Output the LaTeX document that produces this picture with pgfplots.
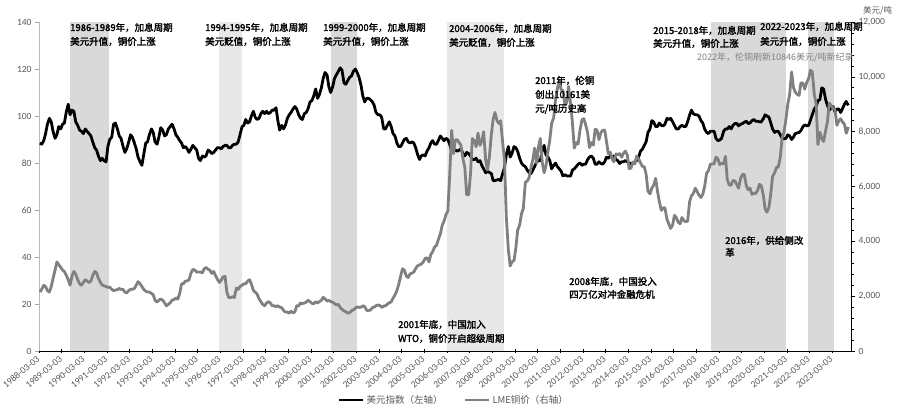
\documentclass[border=0pt]{standalone}
\usepackage{pgfplots}
\pgfplotsset{compat=1.18}
\usepackage{pgfplotstable}
\usepackage{fontspec}
\setmainfont{Carlito}
\newfontfamily\cjk{Noto Sans CJK SC}
\newfontfamily\cjkb[FakeBold=2]{Noto Sans CJK SC}

\definecolor{band}{HTML}{D9D9D9}
\definecolor{bandl}{HTML}{E8E8E8}
\definecolor{cu}{HTML}{808080}
\definecolor{tk}{HTML}{595959}

% t = decimal year (mid-month), u = US dollar index, c = LME copper (USD/t)
\pgfplotstableread{
t u c
1988.21 88.5 2150
1988.29 88.0 2250
1988.38 89.5 2400
1988.46 92.5 2350
1988.54 96.5 2200
1988.63 99.0 2150
1988.71 97.5 2350
1988.79 93.5 2650
1988.88 90.5 2950
1988.96 92.0 3250
1989.04 95.5 3150
1989.13 94.5 3050
1989.21 96.5 2950
1989.29 97.0 2900
1989.38 102.0 2750
1989.46 105.0 2600
1989.54 100.5 2400
1989.63 102.5 2750
1989.71 102.0 2900
1989.79 97.5 2800
1989.88 96.0 2600
1989.96 94.0 2450
1990.04 93.5 2400
1990.13 92.5 2500
1990.21 94.5 2600
1990.29 93.5 2550
1990.38 92.5 2500
1990.46 91.5 2550
1990.54 89.0 2750
1990.63 86.5 2900
1990.71 85.5 2850
1990.79 83.0 2650
1990.88 81.0 2500
1990.96 82.0 2400
1991.04 81.0 2380
1991.13 80.5 2350
1991.21 87.0 2320
1991.29 90.0 2330
1991.38 91.0 2250
1991.46 96.5 2200
1991.54 97.0 2220
1991.63 94.5 2240
1991.71 91.5 2280
1991.79 90.5 2250
1991.88 87.0 2240
1991.96 84.5 2150
1992.04 86.0 2120
1992.13 89.0 2200
1992.21 92.0 2250
1992.29 91.0 2250
1992.38 88.5 2280
1992.46 86.0 2400
1992.54 82.5 2530
1992.63 80.5 2450
1992.71 79.0 2350
1992.79 83.5 2250
1992.88 88.5 2180
1992.96 89.0 2150
1993.04 92.0 2150
1993.13 94.5 2100
1993.21 93.0 2050
1993.29 89.0 1850
1993.38 88.0 1780
1993.46 91.0 1850
1993.54 95.0 1900
1993.63 94.0 1850
1993.71 91.5 1760
1993.79 92.0 1650
1993.88 94.5 1700
1993.96 95.5 1760
1994.04 96.5 1850
1994.13 94.5 1880
1994.21 92.0 1930
1994.29 91.0 1890
1994.38 89.5 2100
1994.46 88.5 2450
1994.54 86.5 2450
1994.63 87.0 2550
1994.71 86.0 2550
1994.79 84.5 2600
1994.88 86.0 2850
1994.96 87.5 2980
1995.04 86.5 2950
1995.13 85.5 2880
1995.21 82.0 2880
1995.29 81.0 2880
1995.38 83.0 2850
1995.46 82.5 3000
1995.54 83.0 3050
1995.63 85.5 2980
1995.71 85.0 2950
1995.79 84.0 2830
1995.88 84.5 2900
1995.96 85.5 2750
1996.04 86.5 2620
1996.13 86.5 2500
1996.21 86.0 2580
1996.29 87.0 2700
1996.38 87.5 2720
1996.46 87.5 2150
1996.54 86.5 1950
1996.63 86.5 1950
1996.71 87.5 1980
1996.79 88.0 1950
1996.88 88.0 2300
1996.96 89.0 2250
1997.04 92.0 2350
1997.13 95.5 2400
1997.21 96.0 2450
1997.29 98.5 2450
1997.38 97.0 2550
1997.46 97.5 2600
1997.54 100.0 2450
1997.63 102.0 2200
1997.71 99.5 2150
1997.79 98.5 2080
1997.88 99.0 1900
1997.96 101.0 1800
1998.04 102.0 1700
1998.13 101.0 1650
1998.21 102.0 1750
1998.29 101.0 1800
1998.38 101.5 1750
1998.46 102.5 1650
1998.54 102.5 1650
1998.63 103.5 1620
1998.71 98.0 1650
1998.79 94.0 1600
1998.88 96.0 1580
1998.96 94.5 1480
1999.04 96.0 1420
1999.13 99.0 1420
1999.21 100.5 1380
1999.29 101.5 1450
1999.38 103.0 1400
1999.46 104.0 1420
1999.54 103.0 1650
1999.63 100.5 1650
1999.71 99.0 1750
1999.79 98.5 1730
1999.88 101.0 1750
1999.96 101.5 1780
2000.04 103.0 1850
2000.13 106.0 1800
2000.21 106.5 1740
2000.29 108.5 1720
2000.38 111.5 1800
2000.46 107.5 1750
2000.54 109.0 1800
2000.63 112.0 1850
2000.71 116.0 1960
2000.79 118.5 1900
2000.88 117.5 1820
2000.96 112.5 1850
2001.04 110.0 1800
2001.13 112.5 1780
2001.21 116.0 1730
2001.29 117.5 1680
2001.38 119.0 1700
2001.46 120.5 1580
2001.54 119.5 1520
2001.63 114.0 1460
2001.71 113.5 1430
2001.79 115.0 1380
2001.88 116.5 1400
2001.96 117.0 1470
2002.04 119.0 1500
2002.13 120.0 1560
2002.21 118.5 1610
2002.29 116.5 1590
2002.38 113.0 1600
2002.46 108.5 1650
2002.54 106.0 1620
2002.63 107.5 1480
2002.71 107.5 1480
2002.79 107.0 1490
2002.88 106.0 1580
2002.96 104.5 1600
2003.04 101.5 1650
2003.13 100.5 1680
2003.21 100.5 1660
2003.29 99.5 1590
2003.38 94.5 1640
2003.46 94.5 1650
2003.54 96.0 1710
2003.63 97.5 1760
2003.71 95.5 1790
2003.79 92.5 1920
2003.88 91.5 2050
2003.96 88.5 2200
2004.04 87.0 2420
2004.13 87.0 2740
2004.21 88.5 3000
2004.29 90.0 2950
2004.38 90.5 2730
2004.46 89.0 2680
2004.54 88.5 2810
2004.63 89.0 2840
2004.71 88.5 2880
2004.79 86.5 3010
2004.88 83.5 3110
2004.96 81.5 3140
2005.04 83.0 3170
2005.13 83.5 3250
2005.21 83.0 3380
2005.29 85.0 3400
2005.38 86.5 3250
2005.46 88.5 3520
2005.54 89.5 3620
2005.63 88.0 3800
2005.71 88.0 3850
2005.79 89.5 4060
2005.88 91.5 4270
2005.96 90.5 4580
2006.04 89.5 4730
2006.13 90.5 4980
2006.21 90.0 5100
2006.29 88.0 6380
2006.38 85.0 8050
2006.46 85.5 7200
2006.54 85.5 7700
2006.63 85.0 7700
2006.71 85.5 7600
2006.79 86.0 7500
2006.88 84.0 7000
2006.96 83.0 6700
2007.04 84.5 5700
2007.13 84.0 5700
2007.21 83.0 6450
2007.29 81.5 7750
2007.38 81.5 7650
2007.46 82.0 7450
2007.54 80.5 7950
2007.63 81.0 7500
2007.71 79.0 7650
2007.79 77.5 8000
2007.88 75.8 6950
2007.96 76.5 6600
2008.04 76.0 7050
2008.13 75.5 7900
2008.21 72.5 8450
2008.29 72.5 8700
2008.38 72.8 8400
2008.46 73.0 8300
2008.54 72.5 8400
2008.63 75.5 7600
2008.71 78.0 6950
2008.79 83.5 4900
2008.88 87.0 3700
2008.96 82.5 3100
2009.04 84.0 3250
2009.13 87.0 3300
2009.21 86.5 3750
2009.29 85.0 4400
2009.38 82.0 4600
2009.46 80.0 5000
2009.54 79.0 5200
2009.63 78.5 6150
2009.71 77.0 6200
2009.79 76.0 6300
2009.88 75.5 6700
2009.96 77.0 6980
2010.04 78.5 7400
2010.13 80.5 6850
2010.21 81.0 7450
2010.29 81.0 7750
2010.38 85.5 6850
2010.46 87.5 6500
2010.54 83.5 6750
2010.63 82.5 7300
2010.71 81.0 7700
2010.79 77.5 8300
2010.88 79.0 8500
2010.96 80.0 9150
2011.04 78.5 9550
2011.13 77.5 9880
2011.21 76.5 9530
2011.29 74.5 9500
2011.38 75.0 8960
2011.46 74.5 9070
2011.54 74.5 9650
2011.63 74.5 9000
2011.71 77.0 8300
2011.79 77.5 7400
2011.88 78.5 7600
2011.96 79.5 7550
2012.04 80.0 8040
2012.13 79.0 8440
2012.21 79.5 8470
2012.29 79.5 8260
2012.38 81.5 7950
2012.46 82.5 7420
2012.54 83.0 7600
2012.63 82.0 7510
2012.71 79.5 8090
2012.79 79.5 8060
2012.88 80.5 7710
2012.96 79.8 7960
2013.04 79.5 8050
2013.13 80.5 8060
2013.21 82.5 7650
2013.29 82.0 7200
2013.38 83.0 7250
2013.46 82.5 7000
2013.54 83.0 6900
2013.63 81.5 7190
2013.71 81.0 7160
2013.79 79.8 7200
2013.88 80.5 7070
2013.96 80.5 7210
2014.04 81.0 7290
2014.13 80.5 7150
2014.21 80.0 6650
2014.29 79.8 6670
2014.38 80.0 6890
2014.46 80.5 6820
2014.54 81.0 7110
2014.63 82.5 7000
2014.71 85.0 6870
2014.79 85.8 6740
2014.88 87.5 6710
2014.96 89.0 6450
2015.04 93.0 5830
2015.13 94.5 5730
2015.21 98.0 5940
2015.29 97.5 6040
2015.38 95.5 6300
2015.46 95.5 5830
2015.54 97.0 5460
2015.63 96.0 5130
2015.71 95.8 5220
2015.79 96.5 5220
2015.88 99.0 4800
2015.96 98.5 4640
2016.04 99.0 4470
2016.13 97.5 4600
2016.21 96.0 4950
2016.29 94.5 4870
2016.38 94.5 4690
2016.46 95.5 4640
2016.54 96.0 4870
2016.63 95.5 4750
2016.71 95.5 4720
2016.79 97.5 4730
2016.88 100.5 5450
2016.96 102.5 5660
2017.04 101.0 5740
2017.13 100.5 5940
2017.21 100.5 5820
2017.29 100.0 5680
2017.38 98.0 5600
2017.46 97.0 5720
2017.54 94.5 5990
2017.63 93.0 6490
2017.71 92.5 6570
2017.79 93.5 6810
2017.88 93.5 6820
2017.96 93.5 6830
2018.04 90.5 7070
2018.13 89.5 7000
2018.21 89.8 6800
2018.29 90.5 6840
2018.38 93.5 6830
2018.46 94.5 7100
2018.54 94.5 6250
2018.63 95.5 6050
2018.71 94.5 6050
2018.79 96.0 6220
2018.88 96.8 6200
2018.96 96.8 6070
2019.04 95.8 5940
2019.13 96.5 6300
2019.21 96.8 6440
2019.29 97.3 6440
2019.38 97.8 6030
2019.46 96.8 5880
2019.54 97.0 5940
2019.63 98.0 5710
2019.71 98.5 5760
2019.79 97.8 5740
2019.88 97.8 5860
2019.96 97.5 6080
2020.04 97.5 6030
2020.13 98.8 5690
2020.21 100.5 5180
2020.29 100.0 5060
2020.38 99.5 5240
2020.46 97.0 5740
2020.54 94.5 6370
2020.63 93.0 6500
2020.71 93.5 6700
2020.79 93.5 6700
2020.88 92.0 7070
2020.96 90.5 7770
2021.04 90.3 7970
2021.13 90.5 8460
2021.21 92.0 9000
2021.29 91.5 9340
2021.38 90.0 10180
2021.46 91.0 9610
2021.54 92.5 9440
2021.63 92.8 9360
2021.71 93.0 9320
2021.79 93.8 9780
2021.88 95.5 9770
2021.96 96.2 9550
2022.04 95.8 9780
2022.13 96.0 9940
2022.21 98.2 10240
2022.29 100.5 10180
2022.38 103.0 9360
2022.46 104.0 9030
2022.54 106.5 7530
2022.63 107.0 7980
2022.71 112.0 7750
2022.79 111.5 7640
2022.88 107.0 8040
2022.96 104.5 8370
2023.04 102.5 9040
2023.13 103.5 8930
2023.21 104.0 8850
2023.29 101.8 8820
2023.38 103.0 8230
2023.46 103.0 8390
2023.54 101.5 8470
2023.63 103.2 8350
2023.71 105.0 8270
2023.79 106.2 7940
2023.88 104.5 8170
}\data

\pgfplotsset{
  base/.style={
    at={(39pt,60pt)}, anchor=south west,
    scale only axis, width=812pt, height=329pt,
    xmin=1988.17, xmax=2024.0,
    clip=true,
    axis line style={-},
    major tick length=4pt,
    /pgf/number format/assume math mode=true,
  },
}

\begin{document}
\begin{tikzpicture}
\useasboundingbox (0,0) rectangle (900pt,411pt);

% left axis: dollar index and shaded periods
\begin{axis}[base,
    ymin=0, ymax=140,
    ytick={0,20,...,140},
    axis x line*=bottom, axis y line*=left,
    separate axis lines,
    x axis line style={black, line width=0.8pt},
    y axis line style={draw=gray!55, line width=0.6pt},
    xtick={1988.17,1989.17,1990.17,1991.17,1992.17,1993.17,1994.17,1995.17,1996.17,1997.17,1998.17,1999.17,2000.17,2001.17,2002.17,2003.17,2004.17,2005.17,2006.17,2007.17,2008.17,2009.17,2010.17,2011.17,2012.17,2013.17,2014.17,2015.17,2016.17,2017.17,2018.17,2019.17,2020.17,2021.17,2022.17,2023.17},
    xticklabels={1988-03-03,1989-03-03,1990-03-03,1991-03-03,1992-03-03,1993-03-03,1994-03-03,1995-03-03,1996-03-03,1997-03-03,1998-03-03,1999-03-03,2000-03-03,2001-03-03,2002-03-03,2003-03-03,2004-03-03,2005-03-03,2006-03-03,2007-03-03,2008-03-03,2009-03-03,2010-03-03,2011-03-03,2012-03-03,2013-03-03,2014-03-03,2015-03-03,2016-03-03,2017-03-03,2018-03-03,2019-03-03,2020-03-03,2021-03-03,2022-03-03,2023-03-03},
    xtick align=center,
    ytick align=outside,
    xtick style={black, line width=0.6pt},
    ytick style={gray!70, line width=0.6pt},
    xticklabel style={rotate=40, anchor=east, font=\fontsize{9.5}{10}\selectfont, text=tk, inner sep=1pt},
    xticklabel shift=4pt,
    yticklabel style={font=\fontsize{9.5}{10}\selectfont, text=tk},
  ]
  \addplot[fill=band, draw=none, forget plot] coordinates {(1989.54,140) (1991.26,140)} \closedcycle;
  \addplot[fill=bandl, draw=none, forget plot] coordinates {(1996.11,140) (1997.13,140)} \closedcycle;
  \addplot[fill=band, draw=none, forget plot] coordinates {(2001.06,140) (2002.20,140)} \closedcycle;
  \addplot[fill=bandl, draw=none, forget plot] coordinates {(2006.18,140) (2008.69,140)} \closedcycle;
  \addplot[fill=band, draw=none, forget plot] coordinates {(2017.83,140) (2021.14,140)} \closedcycle;
  \addplot[fill=band, draw=none, forget plot] coordinates {(2022.11,140) (2023.25,140)} \closedcycle;
  \addplot[black, line width=2.8pt, line join=round] table[x=t, y=u] {\data};
\end{axis}

% right axis: LME copper
\begin{axis}[base,
    ymin=0, ymax=12000,
    ytick={0,2000,...,12000},
    minor y tick num=4,
    axis x line=none, axis y line*=right,
    y axis line style={black, line width=0.8pt},
    ytick align=outside,
    ytick style={black, line width=0.6pt},
    minor tick length=3pt,
    scaled y ticks=false,
    yticklabel style={font=\fontsize{9.5}{10}\selectfont, text=tk,
      /pgf/number format/.cd, fixed, 1000 sep={,}},
    legend style={at={(0.511,-0.149)}, anchor=center, draw=none, fill=none,
      legend columns=2, font=\cjk\fontsize{9.5}{11}\selectfont, text=tk,
      /tikz/every even column/.append style={column sep=19pt},
      inner sep=0pt},
    legend image code/.code={\draw[#1] (0pt,0pt) -- (24pt,0pt);},
  ]
  \addlegendimage{black, line width=2.8pt}
  \addlegendentry{美元指数（左轴）}
  \addplot[cu, line width=2.8pt, line join=round] table[x=t, y=c] {\data};
  \addlegendentry{LME铜价（右轴）}
\end{axis}

% annotations (pixel positions, origin top left)
\begin{scope}[x=1pt, y=-1pt, shift={(0pt,411pt)},
    every node/.style={inner sep=0pt, anchor=base west, font=\cjkb\fontsize{9.5}{11}\selectfont}]
  \node at (70,31) {1986-1989年，加息周期};
  \node at (70,45) {美元升值，铜价上涨};
  \node at (205,31) {1994-1995年，加息周期};
  \node at (205,45) {美元贬值，铜价上涨};
  \node at (323,31) {1999-2000年，加息周期};
  \node at (323,45) {美元升值，铜价上涨};
  \node at (449,32) {2004-2006年，加息周期};
  \node at (449,46) {美元贬值，铜价上涨};
  \node at (535,84) {2011年，伦铜};
  \node at (535,98) {创出10161美};
  \node at (535,112) {元/吨历史高};
  \node at (653,34) {2015-2018年，加息周期};
  \node at (653,47) {美元升值，铜价上涨};
  \node at (760,30) {2022-2023年，加息周期};
  \node at (760,45) {美元升值，铜价上涨};
  \node[text=cu, font=\cjk\fontsize{9}{11}\selectfont] at (697,61) {2022年，伦铜刷新10846美元/吨新纪录};
  \node at (398,328) {2001年底，中国加入};
  \node at (398,342) {WTO，铜价开启超级周期};
  \node at (569,285) {2008年底，中国投入};
  \node at (569,298) {四万亿对冲金融危机};
  \node at (725,244) {2016年，供给侧改};
  \node at (725,256) {革};
  \node[text=tk, font=\cjk\fontsize{8.5}{10}\selectfont] at (863,14) {美元/吨};
\end{scope}
\end{tikzpicture}
\end{document}
